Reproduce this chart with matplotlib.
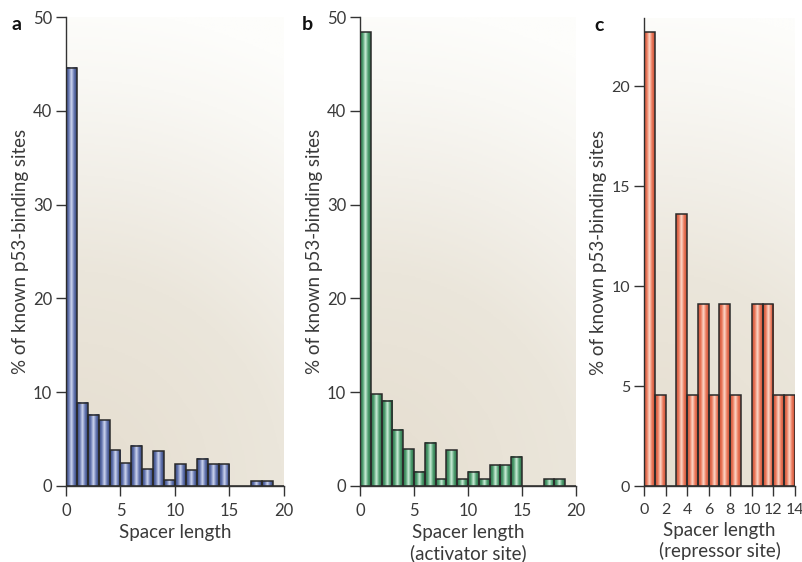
import numpy as np
import matplotlib
matplotlib.use("Agg")
import matplotlib.pyplot as plt
from matplotlib.colors import LinearSegmentedColormap

plt.rcParams["font.family"] = ["Lato", "DejaVu Sans"]

# --- dati (% dei siti p53 noti per lunghezza spacer) ---
spacer_ab = list(range(20))
pct_all = [44.6, 8.9, 7.6, 7.0, 3.8, 2.4, 4.3, 1.8, 3.7, 0.6,
           2.3, 1.7, 2.9, 2.3, 2.3, 0.0, 0.0, 0.5, 0.5, 0.0]
pct_act = [48.4, 9.8, 9.1, 6.0, 3.9, 1.5, 4.6, 0.7, 3.8, 0.7,
           1.5, 0.7, 2.2, 2.2, 3.1, 0.0, 0.0, 0.7, 0.7, 0.0]
spacer_c = list(range(14))
pct_rep = [22.7, 4.55, 0.0, 13.6, 4.55, 9.09, 4.55, 9.09, 4.55, 0.0,
           9.09, 9.09, 4.55, 4.55]

ticks_ab = [0, 5, 10, 15, 20]
yticks_ab = [0, 10, 20, 30, 40, 50]
ticks_c = [0, 2, 4, 6, 8, 10, 12, 14]
yticks_c = [0, 5, 10, 15, 20]

W, H = 803, 562
fig = plt.figure(figsize=(W / 100, H / 100), dpi=100)


def px_axes(l, r, t, b):
    ax = fig.add_axes([l / W, 1 - b / H, (r - l) / W, (b - t) / H])
    ax._px = (r - l, b - t)
    return ax


# sfondo: gradiente radiale (in pixel) centrato sull'origine
bg_cmap = LinearSegmentedColormap.from_list(
    "bg", [(0.0, "#e5ddcf"), (0.45, "#ebe6db"), (0.65, "#f2efe8"),
           (0.85, "#f9f8f4"), (1.0, "#fdfdfb")])


def background(ax, xmax, ymax):
    wpx, hpx = ax._px
    gx, gy = np.meshgrid(np.linspace(0, wpx, 200), np.linspace(0, hpx, 300))
    r = np.sqrt(gx ** 2 + gy ** 2) / 480.0
    ax.imshow(np.clip(r, 0, 1), extent=(0, xmax, 0, ymax), origin="lower",
              cmap=bg_cmap, aspect="auto", zorder=0, vmin=0, vmax=1)


def bars(ax, xs, hs, cols):
    # barre "cilindriche": gradiente orizzontale scuro-chiaro-scuro
    cm = LinearSegmentedColormap.from_list("b", cols)
    grad = np.linspace(0, 1, 40)[None, :]
    for x, h in zip(xs, hs):
        if h <= 0:
            continue
        ax.imshow(grad, extent=(x, x + 1, 0, h), cmap=cm, aspect="auto",
                  zorder=2, origin="lower")
    ax.bar(xs, hs, width=1.0, align="edge", fill=False,
           edgecolor="#2a2a2a", linewidth=1.1, zorder=3)


def style(ax, xlim, ylim, xt, yt, xlabel, tsize=12):
    ax.set_xlim(*xlim)
    ax.set_ylim(*ylim)
    ax.set_xticks(xt)
    ax.set_yticks(yt)
    for s in ("top", "right"):
        ax.spines[s].set_visible(False)
    for s in ("left", "bottom"):
        ax.spines[s].set_color("#333333")
        ax.spines[s].set_linewidth(1.0)
    ax.tick_params(length=7, width=1, color="#333333", labelcolor="#3a3a3a",
                   labelsize=tsize)
    ax.tick_params(axis="x", pad=5)
    ax.tick_params(axis="y", pad=3)
    ax.set_ylabel("% of known p53-binding sites", fontsize=13.5, color="#3a3a3a",
                  labelpad=3)
    ax.set_xlabel(xlabel, fontsize=13.5, color="#3a3a3a", labelpad=4,
                  linespacing=1.2)


# pannello a
ax = px_axes(66, 284, 17, 486)
background(ax, 20.1, 50)
bars(ax, spacer_ab, pct_all, ["#34447a", "#6476b0", "#cfd6ef", "#6476b0", "#34447a"])
style(ax, (0, 20), (0, 50), ticks_ab, yticks_ab, "Spacer length")

# pannello b
ax = px_axes(360, 576, 17, 486)
background(ax, 20.2, 50)
bars(ax, spacer_ab, pct_act, ["#2c7048", "#4f9e70", "#cdeed9", "#4f9e70", "#2c7048"])
style(ax, (0, 20), (0, 50), ticks_ab, yticks_ab,
      "Spacer length\n(activator site)")

# pannello c
ax = px_axes(644, 795, 18, 486)
background(ax, 14, 23.4)
bars(ax, spacer_c, pct_rep, ["#c9533a", "#ea7658", "#fdd9cb", "#ea7658", "#c9533a"])
style(ax, (0, 14), (0, 23.4), ticks_c, yticks_c,
      "Spacer length\n(repressor site)", tsize=11.5)

for x, y, s in [(12, 30, "a"), (302, 30, "b"), (594, 31, "c")]:
    fig.text(x / W, 1 - y / H, s, fontsize=14, fontweight="bold", color="#111111")

fig.savefig("out.png", dpi=100)
